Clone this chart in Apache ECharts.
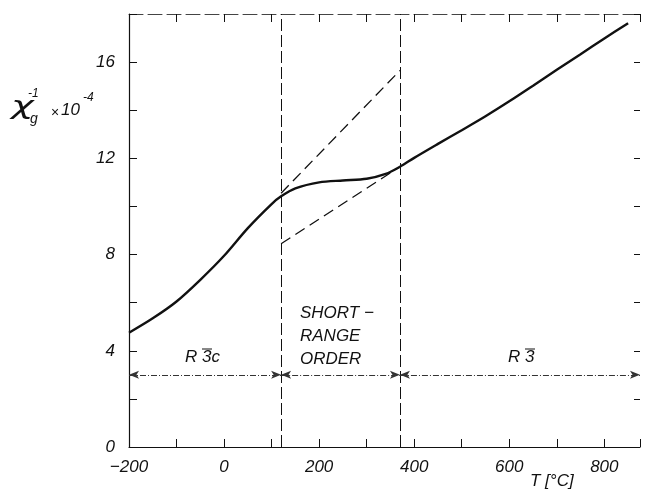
<!DOCTYPE html>
<html>
<head>
<meta charset="utf-8">
<script src="https://cdn.jsdelivr.net/npm/echarts@6/dist/echarts.min.js"></script>
<style>
  html, body { margin: 0; padding: 0; background: #fff; }
  #chart { width: 645px; height: 497px; }
</style>
</head>
<body>
<div id="chart"></div>
<script>
// Inverse susceptibility vs temperature
const temps = [-200, -150, -100, -50, 0, 50, 100, 120, 150, 200, 250, 300, 340, 370, 400, 450, 500, 550, 600, 650, 700, 750, 800, 850];
const chiInv = [4.75, 5.35, 6.05, 6.95, 7.95, 9.1, 10.1, 10.42, 10.75, 11.0, 11.08, 11.15, 11.35, 11.65, 12.02, 12.6, 13.17, 13.75, 14.37, 15.02, 15.68, 16.33, 16.98, 17.62];

// extrapolated dashed lines across the short-range-order region
const upperDash = [[120, 10.55], [370, 15.65]];
const lowerDash = [[120, 8.45], [370, 11.65]];

// phase boundaries
const boundaries = [120, 370];
const phaseSpans = [[-200, 120], [120, 370], [370, 875]];
const arrowLevel = 3;

const xTicks = [-200, 0, 200, 400, 600, 800];
const yTicks = [0, 4, 8, 12, 16];

const ink = '#111';
const font = 'Liberation Sans';

const chart = echarts.init(document.getElementById('chart'));

const baseAxis = {
    type: 'value',
    min: -200,
    max: 875,
    interval: 200,
    splitLine: { show: false }
};

const option = {
    animation: false,
    grid: { left: 129, right: 5, top: 14, bottom: 50 },
    xAxis: [
        {
            ...baseAxis,
            position: 'bottom',
            axisLine: { onZero: false, lineStyle: { color: ink, width: 1.2 } },
            axisTick: { inside: true, length: 8, lineStyle: { color: ink } },
            minorTick: { show: true, splitNumber: 2, length: 8, lineStyle: { color: ink } },
            axisLabel: {
                color: ink, fontSize: 17, fontStyle: 'italic', fontFamily: font, margin: 12,
                formatter: v => xTicks.includes(v) ? (v < 0 ? '\u2212' + Math.abs(v) : String(v)) : ''
            }
        },
        {
            ...baseAxis,
            position: 'top',
            axisLine: { show: true, onZero: false, lineStyle: { color: '#444', width: 1, type: [14, 5] } },
            axisTick: { show: true, inside: true, length: 8, lineStyle: { color: ink } },
            minorTick: { show: true, splitNumber: 2, length: 8, lineStyle: { color: ink } },
            axisLabel: { show: false }
        }
    ],
    yAxis: [
        {
            type: 'value',
            min: 0,
            max: 18,
            interval: 4,
            position: 'left',
            axisLine: { show: true, onZero: false, lineStyle: { color: ink, width: 1.2 } },
            axisTick: { show: true, inside: true, length: 8, lineStyle: { color: ink } },
            minorTick: { show: true, splitNumber: 2, length: 8, lineStyle: { color: ink } },
            axisLabel: {
                color: ink, fontSize: 17, fontStyle: 'italic', fontFamily: font, margin: 14,
                formatter: v => yTicks.includes(v) ? String(v) : ''
            },
            splitLine: { show: false }
        },
        {
            type: 'value',
            min: 0,
            max: 18,
            interval: 4,
            position: 'right',
            axisLine: { show: false, onZero: false },
            axisTick: { show: true, inside: true, length: 6, lineStyle: { color: ink } },
            minorTick: { show: true, splitNumber: 2, length: 6, lineStyle: { color: ink } },
            axisLabel: { show: false },
            splitLine: { show: false }
        }
    ],
    series: [
        {
            type: 'line',
            data: temps.map((t, i) => [t, chiInv[i]]),
            smooth: 0.3,
            symbol: 'none',
            lineStyle: { color: ink, width: 2.4 },
            z: 5
        },
        {
            type: 'line',
            data: upperDash,
            symbol: 'none',
            lineStyle: { color: ink, width: 1.3, type: [11, 6] }
        },
        {
            type: 'line',
            data: lowerDash,
            symbol: 'none',
            lineStyle: { color: ink, width: 1.3, type: [11, 6] }
        },
        // vertical phase boundaries
        {
            type: 'line',
            data: [],
            markLine: {
                silent: true,
                symbol: 'none',
                label: { show: false },
                lineStyle: { color: ink, width: 1, type: [12, 4] },
                data: boundaries.map(b => ({ xAxis: b }))
            }
        },
        // phase span arrows
        {
            type: 'line',
            data: [],
            markLine: {
                silent: true,
                symbol: ['arrow', 'arrow'],
                symbolSize: [6, 10],
                label: { show: false },
                lineStyle: { color: '#333', width: 1, type: [6, 2, 1, 2] },
                data: phaseSpans.map(s => [
                    { coord: [s[0], arrowLevel] },
                    { coord: [s[1], arrowLevel] }
                ])
            }
        }
    ],
    graphic: [
        // y axis title: chi_g^-1 x 10^-4
        { type: 'text', x: 11, y: 96, scaleX: 1.6, style: { text: 'χ', font: 'italic 24px "DejaVu Sans"', fill: ink } },
        { type: 'text', left: 28, top: 88, style: { text: '-1', font: 'italic 12px "Liberation Sans"', fill: ink } },
        { type: 'text', left: 30, top: 112, style: { text: 'g', font: 'italic 14px "Liberation Sans"', fill: ink } },
        { type: 'text', left: 51, top: 106, style: { text: '×', font: '14px "Liberation Sans"', fill: ink } },
        { type: 'text', left: 61, top: 102, style: { text: '10', font: 'italic 17px "Liberation Sans"', fill: ink } },
        { type: 'text', left: 83, top: 92, style: { text: '-4', font: 'italic 12px "Liberation Sans"', fill: ink } },
        // x axis title
        { type: 'text', left: 530, top: 473, style: { text: 'T [°C]', font: 'italic 17px "Liberation Sans"', fill: ink } },
        // phase labels
        { type: 'text', left: 185, top: 349, style: { text: 'R 3c', font: 'italic 17px "Liberation Sans"', fill: ink } },
        { type: 'line', shape: { x1: 202, y1: 349, x2: 212, y2: 349 }, style: { stroke: ink, lineWidth: 1 } },
        { type: 'text', left: 300, top: 302, style: { text: 'SHORT \u2212\nRANGE\nORDER', font: 'italic 17px "Liberation Sans"', lineHeight: 23, fill: ink } },
        { type: 'text', left: 508, top: 349, style: { text: 'R 3', font: 'italic 17px "Liberation Sans"', fill: ink } },
        { type: 'line', shape: { x1: 525, y1: 349, x2: 535, y2: 349 }, style: { stroke: ink, lineWidth: 1 } }
    ]
};

chart.setOption(option);
</script>
</body>
</html>
